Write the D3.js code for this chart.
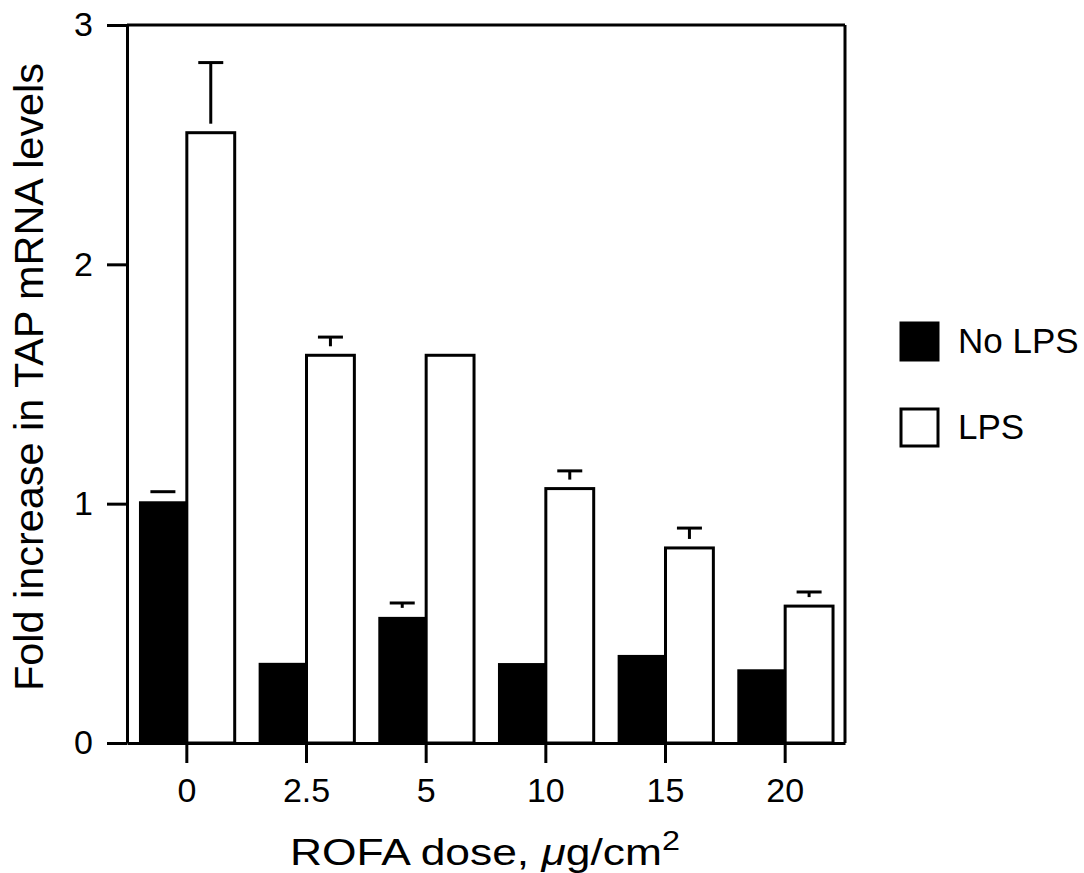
<!DOCTYPE html>
<html lang="en">
<head>
    <meta charset="UTF-8">
    <title>TAP mRNA levels vs ROFA dose</title>
    <style>
        body { margin: 0; background: #fff; }
        svg { display: block; }
        text { font-family: "Liberation Sans", Arial, Helvetica, sans-serif; fill: #000; }
    </style>
</head>
<body>
    <svg id="chart" width="1084" height="873"></svg>

    <script src="https://d3js.org/d3.v7.min.js"></script>
    <script>
        // data
        var doses = ['0', '2.5', '5', '10', '15', '20'];
        var seriesNames = ['No LPS', 'LPS'];
        var noLps = [1.01, 0.335, 0.527, 0.334, 0.368, 0.308];
        var lps = [2.55, 1.62, 1.62, 1.063, 0.815, 0.572];
        var noLpsErr = [0.04, 0, 0.058, 0, 0, 0];
        var lpsErr = [0.293, 0.076, 0, 0.074, 0.083, 0.059];
        var yTicks = [0, 1, 2, 3];

        var margin = { top: 25, right: 239, bottom: 130, left: 127 };
        var width = 1084 - margin.left - margin.right;
        var height = 873 - margin.top - margin.bottom;
        var stroke = 3;

        var svg = d3.select('#chart')
            .append('g')
            .attr('transform', 'translate(' + margin.left + ',' + margin.top + ')');

        var x0 = d3.scaleBand()
            .domain(doses)
            .range([0, width])
            .paddingInner(0.2)
            .paddingOuter(0.1);

        var x1 = d3.scaleBand()
            .domain(seriesNames)
            .range([0, x0.bandwidth()]);

        var y = d3.scaleLinear()
            .domain([0, 3])
            .range([height, 0]);

        // table for drawing
        var rows = doses.map(function(d, i) {
            return [
                { dose: d, key: 'No LPS', value: noLps[i], err: noLpsErr[i] },
                { dose: d, key: 'LPS', value: lps[i], err: lpsErr[i] }
            ];
        });
        var bars = d3.merge(rows);

        // bars
        svg.selectAll('rect.bar')
            .data(bars)
            .enter().append('rect')
            .attr('class', 'bar')
            .attr('x', function(d) { return x0(d.dose) + x1(d.key); })
            .attr('y', function(d) { return y(d.value); })
            .attr('width', x1.bandwidth())
            .attr('height', function(d) { return height - y(d.value); })
            .attr('fill', function(d) { return d.key === 'No LPS' ? '#000' : '#fff'; })
            .attr('stroke', '#000')
            .attr('stroke-width', function(d) { return d.key === 'No LPS' ? 0 : stroke; });

        // error bars: cap plus a stem that stops short of the bar top
        var gap = 9;
        var capHalf = 12.5;
        var errs = bars.filter(function(d) { return d.err > 0; });
        var eg = svg.selectAll('g.err')
            .data(errs)
            .enter().append('g')
            .attr('class', 'err');

        function cx(d) { return x0(d.dose) + x1(d.key) + x1.bandwidth() / 2; }

        eg.append('line')
            .attr('x1', function(d) { return cx(d) - capHalf; })
            .attr('x2', function(d) { return cx(d) + capHalf; })
            .attr('y1', function(d) { return y(d.value + d.err); })
            .attr('y2', function(d) { return y(d.value + d.err); })
            .attr('stroke', '#000')
            .attr('stroke-width', stroke);

        eg.append('line')
            .attr('x1', cx)
            .attr('x2', cx)
            .attr('y1', function(d) { return y(d.value + d.err); })
            .attr('y2', function(d) { return Math.max(y(d.value + d.err), y(d.value) - gap); })
            .attr('stroke', '#000')
            .attr('stroke-width', stroke);

        // frame: top and right
        svg.append('line')
            .attr('x1', 0).attr('x2', width)
            .attr('y1', 0).attr('y2', 0)
            .attr('stroke', '#000').attr('stroke-width', stroke);
        svg.append('line')
            .attr('x1', width).attr('x2', width)
            .attr('y1', 0).attr('y2', height)
            .attr('stroke', '#000').attr('stroke-width', stroke);

        // axes
        var xAxis = svg.append('g')
            .attr('transform', 'translate(0,' + height + ')')
            .call(d3.axisBottom(x0).tickSizeInner(20).tickSizeOuter(0).tickPadding(15));

        var yAxis = svg.append('g')
            .call(d3.axisLeft(y).tickValues(yTicks).tickFormat(d3.format('d'))
                .tickSizeInner(20).tickSizeOuter(0).tickPadding(14));

        [xAxis, yAxis].forEach(function(a) {
            a.selectAll('path, line').attr('stroke', '#000').attr('stroke-width', stroke);
            a.selectAll('text')
                .style('font-family', '"Liberation Sans", Arial, sans-serif')
                .style('font-size', '34px')
                .attr('fill', '#000');
        });

        // axis titles
        svg.append('text')
            .attr('transform', 'rotate(-90)')
            .attr('x', -(377 - margin.top))
            .attr('y', 43 - margin.left)
            .attr('textLength', 628)
            .attr('lengthAdjust', 'spacingAndGlyphs')
            .style('text-anchor', 'middle')
            .style('font-size', '40px')
            .text('Fold increase in TAP mRNA levels');

        var xt = svg.append('text')
            .attr('x', 485 - margin.left)
            .attr('y', 865 - margin.top)
            .attr('textLength', 390)
            .attr('lengthAdjust', 'spacingAndGlyphs')
            .style('text-anchor', 'middle')
            .style('font-size', '37px');
        xt.append('tspan').text('ROFA dose, ');
        xt.append('tspan').style('font-style', 'italic').text('\u03bc');
        xt.append('tspan').text('g/cm');
        xt.append('tspan').attr('dy', -15).style('font-size', '27px').text('2');

        // legend
        var legend = svg.selectAll('g.legend')
            .data(seriesNames)
            .enter().append('g')
            .attr('class', 'legend')
            .attr('transform', function(d, i) {
                return 'translate(' + (901 - margin.left) + ',' + (323 + i * 86 - margin.top) + ')';
            });

        legend.append('rect')
            .attr('width', 37)
            .attr('height', 37)
            .attr('fill', function(d) { return d === 'No LPS' ? '#000' : '#fff'; })
            .attr('stroke', '#000')
            .attr('stroke-width', stroke);

        legend.append('text')
            .attr('x', 57)
            .attr('y', 30)
            .style('font-size', '35px')
            .text(function(d) { return d; });
    </script>
</body>
</html>
